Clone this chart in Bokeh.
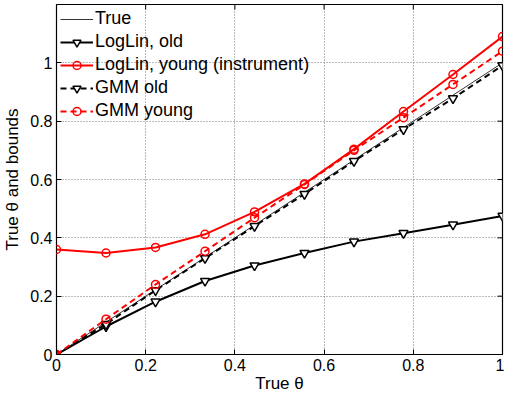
import math
from bokeh.plotting import figure
from bokeh.models import FixedTicker, CustomJSTickFormatter, Range1d, Legend
from bokeh.embed import file_html
from bokeh.resources import INLINE

theta = [0.0, 0.111, 0.222, 0.333, 0.444, 0.556, 0.667, 0.778, 0.889, 1.0]
true_vals = [0.0, 0.111, 0.222, 0.333, 0.444, 0.556, 0.667, 0.778, 0.889, 1.0]
loglin_old = [0.0, 0.096, 0.181, 0.252, 0.305, 0.348, 0.387, 0.416, 0.445, 0.475]
loglin_young = [0.36, 0.348, 0.367, 0.412, 0.489, 0.585, 0.704, 0.833, 0.96, 1.09]
gmm_old = [0.0, 0.104, 0.22, 0.33, 0.44, 0.55, 0.663, 0.772, 0.878, 0.991]
gmm_young = [0.0, 0.121, 0.24, 0.354, 0.469, 0.583, 0.70, 0.812, 0.926, 1.04]

x_ticks = [0, 0.2, 0.4, 0.6, 0.8, 1.0]
y_ticks = [0, 0.2, 0.4, 0.6, 0.8, 1.0]
X_MAX = 1.0
Y_MAX = 1.2

FONT = "Liberation Sans"

p = figure(width=504, height=395, output_backend="svg", toolbar_location=None,
           x_range=Range1d(0, X_MAX), y_range=Range1d(0, Y_MAX),
           min_border_left=53, min_border_right=2, min_border_top=4, min_border_bottom=39)
p.outline_line_color = "black"
p.outline_line_width = 1.2
p.background_fill_color = "white"

fmt = CustomJSTickFormatter(code="var s = tick.toFixed(1); if (s.endsWith('.0')) s = s.slice(0, -2); return s;")

for ax, ticks in ((p.xaxis[0], x_ticks), (p.yaxis[0], y_ticks)):
    ax.ticker = FixedTicker(ticks=ticks)
    ax.formatter = fmt
    ax.major_tick_in = 5
    ax.major_tick_out = 0
    ax.minor_tick_line_color = None
    ax.axis_line_color = None
    ax.major_label_text_font = FONT
    ax.major_label_text_font_size = "16px"
    ax.major_label_text_color = "black"
    ax.axis_label_text_font = FONT
    ax.axis_label_text_font_size = "17px"
    ax.axis_label_text_font_style = "normal"
    ax.axis_label_text_color = "black"
    ax.major_label_standoff = 4

p.xaxis.axis_label = "True θ"
p.xaxis.axis_label_standoff = 0
p.yaxis.axis_label = "True θ and bounds"
p.yaxis.axis_label_standoff = 5

p.xgrid.ticker = FixedTicker(ticks=x_ticks)
p.ygrid.ticker = FixedTicker(ticks=y_ticks)
p.grid.grid_line_color = "#777777"
p.grid.grid_line_dash = "1 2"
p.grid.grid_line_width = 1

# mirrored ticks on the right and top edges (MATLAB box style)
p.ray(x=[X_MAX] * len(y_ticks), y=y_ticks, length=5, length_units="screen",
      angle=math.pi, line_color="black", line_width=1)
p.ray(x=x_ticks, y=[Y_MAX] * len(x_ticks), length=5, length_units="screen",
      angle=-math.pi / 2, line_color="black", line_width=1)

RED = "#ff0000"
items = []

r_true = p.line(theta, true_vals, line_color="#333333", line_width=1)
items.append(("True", [r_true]))

l1 = p.line(theta, loglin_old, line_color="black", line_width=2)
m1 = p.scatter(theta, loglin_old, marker="inverted_triangle", size=9, line_color="black",
               fill_color="white", line_width=1.5)
items.append(("LogLin, old", [l1, m1]))

l2 = p.line(theta, loglin_young, line_color=RED, line_width=2)
m2 = p.scatter(theta, loglin_young, marker="circle", size=8, line_color=RED,
               fill_color="white", fill_alpha=0, line_width=1.5)
items.append(("LogLin, young (instrument)", [l2, m2]))

l3 = p.line(theta, gmm_old, line_color="black", line_width=2, line_dash="6 4")
m3 = p.scatter(theta, gmm_old, marker="inverted_triangle", size=9, line_color="black",
               fill_color="white", line_width=1.5)
items.append(("GMM old", [l3, m3]))

l4 = p.line(theta, gmm_young, line_color=RED, line_width=2, line_dash="6 4")
m4 = p.scatter(theta, gmm_young, marker="circle", size=8, line_color=RED,
               fill_color="white", fill_alpha=0, line_width=1.5)
items.append(("GMM young", [l4, m4]))

legend = Legend(items=items, location="top_left")
legend.background_fill_alpha = 0
legend.border_line_color = None
legend.label_text_font = FONT
legend.label_text_font_size = "18px"
legend.label_text_color = "black"
legend.glyph_width = 33
legend.glyph_height = 20
legend.label_height = 20
legend.spacing = 2
legend.label_standoff = 2
legend.margin = 4
legend.padding = 4
p.add_layout(legend)

open("out.html", "w").write(file_html(p, INLINE))
